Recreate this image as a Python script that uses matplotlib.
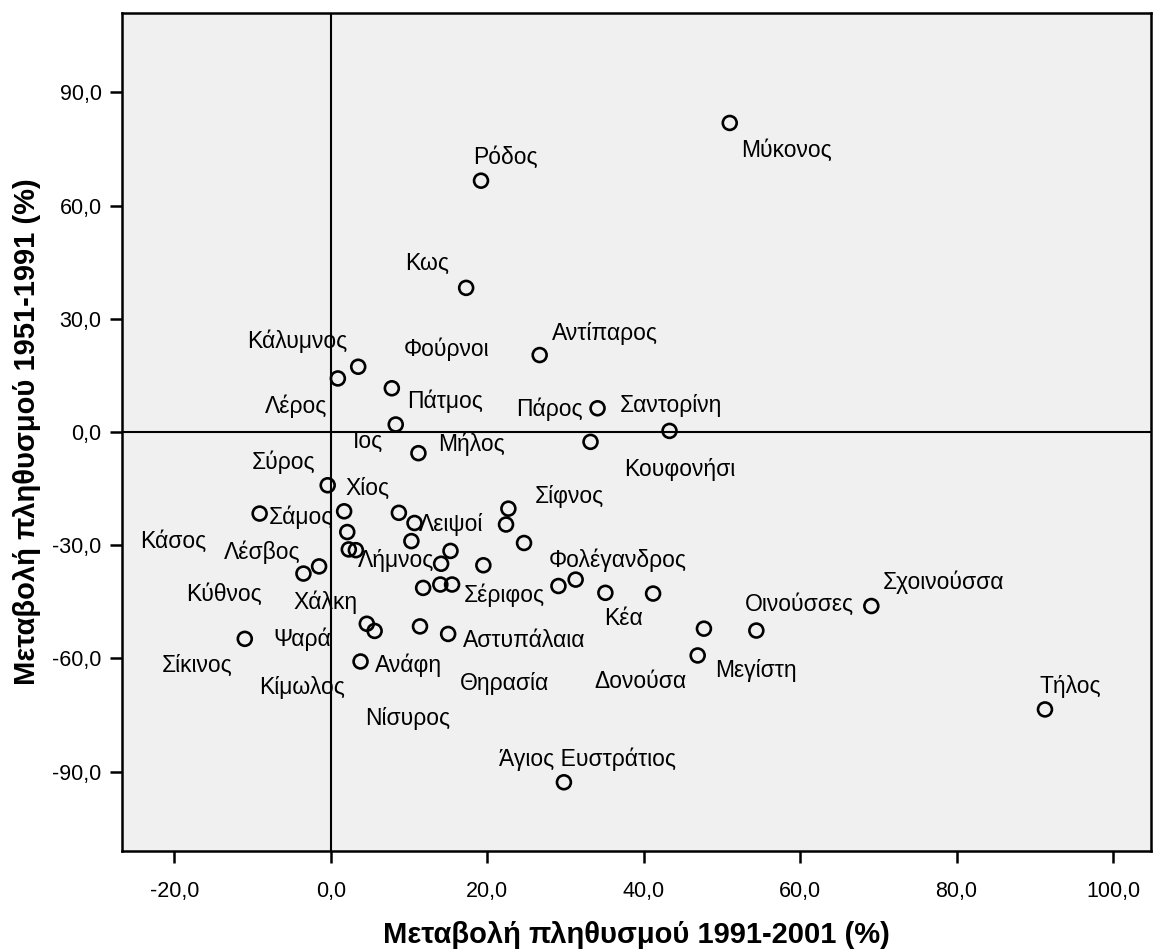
import matplotlib
matplotlib.use("Agg")
import matplotlib.pyplot as plt

plt.rcParams['font.family'] = ['Liberation Sans', 'DejaVu Sans']

# population change 1991-2001 (%) and 1951-1991 (%) for each island
change_91_01 = [51.0, 19.2, 17.3, 26.7, 3.5, 0.9, 7.8, 8.3, 34.1, 43.3,
                33.2, 11.2, -0.4, -9.1, 1.7, 8.7, 10.7, 2.1, 10.3, 2.3,
                3.2, 15.3, 14.1, 19.5, -1.5, -3.5, 22.7, 22.4, 24.7, 11.8,
                14.0, 15.5, 29.1, 31.3, 35.1, 41.2, 4.6, 5.6, 11.4, 15.0,
                3.8, -11.0, 47.7, 46.9, 54.4, 69.1, 91.3, 29.8]
change_51_91 = [81.9, 66.6, 38.2, 20.4, 17.3, 14.2, 11.6, 2.0, 6.3, 0.3,
                -2.6, -5.6, -14.1, -21.6, -21.0, -21.4, -24.1, -26.5, -28.9, -31.1,
                -31.3, -31.5, -34.9, -35.3, -35.6, -37.5, -20.3, -24.5, -29.4, -41.3,
                -40.4, -40.4, -40.8, -39.1, -42.6, -42.8, -50.8, -52.7, -51.5, -53.5,
                -60.8, -54.8, -52.1, -59.2, -52.6, -46.1, -73.5, -92.8]

# island names and the point each name belongs to
names = ['Μύκονος', 'Ρόδος', 'Κως', 'Αντίπαρος', 'Κάλυμνος', 'Φούρνοι', 'Λέρος',
         'Πάτμος', 'Ιος', 'Πάρος', 'Σαντορίνη', 'Κουφονήσι', 'Μήλος', 'Σύρος',
         'Χίος', 'Σάμος', 'Κάσος', 'Λέσβος', 'Λήμνος', 'Λειψοί', 'Σίφνος',
         'Φολέγανδρος', 'Κύθνος', 'Χάλκη', 'Σέριφος', 'Κέα', 'Οινούσσες',
         'Σχοινούσσα', 'Ψαρά', 'Σίκινος', 'Αστυπάλαια', 'Ανάφη', 'Κίμωλος',
         'Νίσυρος', 'Θηρασία', 'Μεγίστη', 'Δονούσα', 'Τήλος', 'Άγιος Ευστράτιος']
name_point = [0, 1, 2, 3, 4, 6, 5,
              7, 7, 8, 9, 10, 11, 12,
              12, 13, 13, 25, 20, 16, 26,
              33, 25, 24, 31, 34, 45,
              45, 41, 41, 39, 40, 40,
              40, 39, 43, 43, 46, 47]

# label placement (pixel offset of the text centre from its point, y down)
label_offset = {
    'Μύκονος': (57, 27), 'Ρόδος': (24, -23), 'Κως': (-39, -24),
    'Αντίπαρος': (65, -22), 'Κάλυμνος': (-61, -25), 'Φούρνοι': (55, -39),
    'Λέρος': (-42, 28), 'Πάτμος': (49, -23), 'Ιος': (-28, 17),
    'Πάρος': (-48, 1), 'Σαντορίνη': (1, -25), 'Κουφονήσι': (89, 28),
    'Μήλος': (53, -9), 'Σύρος': (-44, -23), 'Χίος': (40, 3),
    'Σάμος': (41, 4), 'Κάσος': (-86, 28), 'Λέσβος': (-41, -21),
    'Λήμνος': (40, 10), 'Λειψοί': (37, 2), 'Σίφνος': (61, -12),
    'Φολέγανδρος': (42, -19), 'Κύθνος': (-79, 21), 'Χάλκη': (6, 36),
    'Σέριφος': (52, 11), 'Κέα': (18, 26), 'Οινούσσες': (-72, -2),
    'Σχοινούσσα': (72, -24), 'Ψαρά': (57, 0), 'Σίκινος': (-48, 27),
    'Αστυπάλαια': (76, 7), 'Ανάφη': (48, 4), 'Κίμωλος': (-58, 26),
    'Νίσυρος': (47, 57), 'Θηρασία': (56, 50), 'Μεγίστη': (58, 15),
    'Δονούσα': (-57, 26), 'Τήλος': (25, -23), 'Άγιος Ευστράτιος': (24, -23),
}

xticks = [-20, 0, 20, 40, 60, 80, 100]
yticks = [-90, -60, -30, 0, 30, 60, 90]

fig = plt.figure(figsize=(11.54, 9.51), dpi=100)
ax = fig.add_axes([0.1057, 0.1052, 0.892, 0.881])
ax.set_facecolor('#f0f0f0')

ax.axvline(0, color='black', lw=1.5, zorder=1)
ax.axhline(0, color='black', lw=1.5, zorder=1)

ax.scatter(change_91_01, change_51_91, s=100, facecolors='none',
           edgecolors='black', linewidths=1.9, zorder=3)

for name, idx in zip(names, name_point):
    dx, dy = label_offset[name]
    ax.annotate(name, (change_91_01[idx], change_51_91[idx]),
                xytext=(dx, -dy), textcoords='offset pixels',
                ha='center', va='center', fontsize=16.5, zorder=4)

ax.set_xlim(-26.7, 104.9)
ax.set_ylim(-111, 111)
ax.set_xticks(xticks)
ax.set_yticks(yticks)
ax.set_xticklabels([f'{v:.1f}'.replace('.', ',') for v in xticks])
ax.set_yticklabels([f'{v:.1f}'.replace('.', ',') for v in yticks])
ax.tick_params(length=8.6, width=1.8, labelsize=15.5)
ax.tick_params(axis='x', pad=13)
ax.tick_params(axis='y', pad=6)
for side in ['left', 'bottom', 'top', 'right']:
    ax.spines[side].set_linewidth(1.8)

ax.set_xlabel('Μεταβολή πληθυσμού 1991-2001 (%)', fontsize=21, fontweight='bold', labelpad=14)
ax.set_ylabel('Μεταβολή πληθυσμού 1951-1991 (%)', fontsize=21, fontweight='bold', labelpad=8)

fig.savefig('out.png', dpi=100)
